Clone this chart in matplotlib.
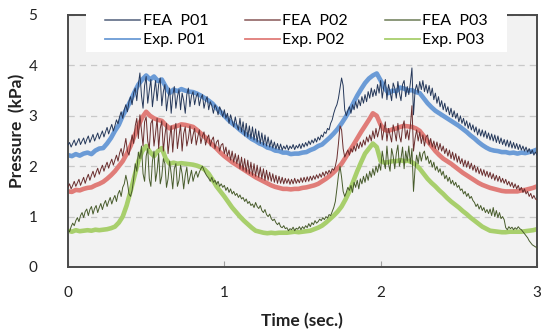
import numpy as np
import matplotlib
matplotlib.use("Agg")
import matplotlib.pyplot as plt
from matplotlib.lines import Line2D
from matplotlib.patches import Rectangle

plt.rcParams['font.family'] = ['Lato', 'DejaVu Sans']

# sampling times (s)
t_exp = np.linspace(0.0, 3.0, 121)   # every 0.025 s
t_fea = np.linspace(0.0, 3.0, 301)   # every 0.01 s

exp_p01 = [
    2.22, 2.20, 2.24, 2.21, 2.25, 2.27, 2.24, 2.31, 2.35, 2.36,
    2.45, 2.56, 2.70, 2.82, 3.00, 3.14, 3.30, 3.47, 3.62, 3.72,
    3.80, 3.72, 3.78, 3.69, 3.72, 3.58, 3.45, 3.52, 3.49, 3.53,
    3.50, 3.48, 3.47, 3.44, 3.40, 3.35, 3.30, 3.24, 3.15, 3.08,
    3.00, 2.92, 2.85, 2.79, 2.72, 2.66, 2.60, 2.54, 2.50, 2.45,
    2.42, 2.37, 2.35, 2.31, 2.30, 2.27, 2.27, 2.24, 2.25, 2.25,
    2.27, 2.28, 2.32, 2.35, 2.40, 2.43, 2.50, 2.57, 2.65, 2.74,
    2.85, 2.97, 3.10, 3.25, 3.40, 3.53, 3.65, 3.74, 3.80, 3.84,
    3.70, 3.55, 3.45, 3.50, 3.49, 3.56, 3.54, 3.50, 3.51, 3.47,
    3.45, 3.35, 3.25, 3.17, 3.10, 3.05, 3.00, 2.95, 2.90, 2.85,
    2.80, 2.74, 2.68, 2.61, 2.55, 2.48, 2.42, 2.37, 2.33, 2.31,
    2.30, 2.28, 2.28, 2.26, 2.27, 2.25, 2.27, 2.26, 2.28, 2.30,
    2.33]
exp_p02 = [
    1.50, 1.49, 1.53, 1.52, 1.55, 1.57, 1.58, 1.62, 1.65, 1.69,
    1.75, 1.82, 1.90, 2.00, 2.10, 2.24, 2.40, 2.60, 2.80, 2.97,
    3.08, 3.00, 2.95, 2.92, 2.90, 2.82, 2.75, 2.78, 2.80, 2.83,
    2.82, 2.80, 2.78, 2.72, 2.65, 2.58, 2.50, 2.42, 2.35, 2.27,
    2.20, 2.14, 2.08, 2.03, 1.98, 1.93, 1.88, 1.83, 1.78, 1.74,
    1.70, 1.66, 1.62, 1.59, 1.57, 1.55, 1.55, 1.54, 1.55, 1.55,
    1.57, 1.58, 1.60, 1.62, 1.65, 1.70, 1.75, 1.81, 1.88, 1.96,
    2.05, 2.17, 2.30, 2.42, 2.55, 2.68, 2.80, 2.92, 3.05, 3.00,
    2.82, 2.72, 2.70, 2.73, 2.75, 2.78, 2.80, 2.79, 2.78, 2.75,
    2.70, 2.60, 2.50, 2.40, 2.30, 2.22, 2.15, 2.10, 2.05, 1.99,
    1.93, 1.87, 1.82, 1.77, 1.72, 1.67, 1.63, 1.60, 1.57, 1.55,
    1.53, 1.51, 1.50, 1.50, 1.50, 1.50, 1.52, 1.53, 1.55, 1.57,
    1.60]
exp_p03 = [
    0.72, 0.70, 0.73, 0.71, 0.72, 0.73, 0.72, 0.74, 0.73, 0.74,
    0.75, 0.77, 0.80, 0.88, 1.00, 1.22, 1.50, 1.80, 2.10, 2.30,
    2.40, 2.28, 2.20, 2.30, 2.36, 2.15, 2.05, 2.07, 2.05, 2.06,
    2.05, 2.04, 2.03, 2.01, 1.98, 1.93, 1.85, 1.73, 1.60, 1.50,
    1.40, 1.29, 1.18, 1.09, 1.00, 0.92, 0.85, 0.78, 0.72, 0.70,
    0.68, 0.67, 0.68, 0.67, 0.68, 0.68, 0.68, 0.69, 0.70, 0.69,
    0.70, 0.71, 0.72, 0.75, 0.78, 0.82, 0.88, 0.95, 1.02, 1.10,
    1.20, 1.34, 1.50, 1.70, 1.90, 2.08, 2.25, 2.35, 2.45, 2.38,
    2.10, 2.07, 2.08, 2.10, 2.10, 2.12, 2.10, 2.11, 2.08, 2.03,
    1.95, 1.85, 1.75, 1.67, 1.60, 1.52, 1.45, 1.37, 1.30, 1.24,
    1.18, 1.11, 1.05, 0.98, 0.92, 0.86, 0.80, 0.76, 0.72, 0.71,
    0.70, 0.69, 0.69, 0.70, 0.70, 0.70, 0.70, 0.71, 0.72, 0.73,
    0.75]

# simulated pressures (kPa)
fea_p01 = [
    2.42, 2.47, 2.38, 2.45, 2.52, 2.41, 2.48, 2.55, 2.43, 2.50,
    2.56, 2.44, 2.53, 2.60, 2.47, 2.55, 2.63, 2.50, 2.58, 2.66,
    2.54, 2.62, 2.70, 2.58, 2.68, 2.77, 2.64, 2.74, 2.83, 2.70,
    2.80, 2.92, 2.84, 2.98, 3.08, 2.95, 3.12, 3.22, 3.08, 3.28,
    3.38, 3.22, 3.45, 3.55, 3.30, 3.62, 3.85, 3.40, 3.15, 3.60,
    3.78, 3.25, 3.50, 3.72, 3.18, 3.45, 3.70, 3.30, 3.62, 3.75,
    3.20, 3.48, 3.62, 3.10, 3.35, 3.55, 3.05, 3.40, 3.58, 3.15,
    3.38, 3.52, 3.12, 3.45, 3.30, 3.05, 3.42, 3.55, 3.18, 3.40,
    3.48, 3.22, 3.38, 3.45, 3.20, 3.35, 3.42, 3.15, 3.30, 3.38,
    3.12, 3.28, 3.20, 3.05, 3.22, 3.15, 3.02, 3.18, 3.10, 2.98,
    3.12, 2.95, 3.05, 2.85, 3.02, 2.90, 2.78, 2.98, 2.82, 2.72,
    2.95, 2.68, 2.88, 2.60, 2.85, 2.58, 2.80, 2.55, 2.78, 2.52,
    2.74, 2.48, 2.70, 2.45, 2.66, 2.42, 2.62, 2.40, 2.58, 2.38,
    2.52, 2.36, 2.48, 2.34, 2.45, 2.33, 2.44, 2.32, 2.40, 2.34,
    2.42, 2.32, 2.40, 2.35, 2.43, 2.33, 2.41, 2.36, 2.44, 2.35,
    2.45, 2.38, 2.47, 2.40, 2.50, 2.43, 2.52, 2.46, 2.55, 2.48,
    2.58, 2.52, 2.62, 2.58, 2.68, 2.65, 2.75, 2.72, 2.85, 2.92,
    3.05, 3.15, 3.22, 3.35, 3.55, 3.75, 3.60, 3.12, 3.00, 3.10,
    3.18, 3.05, 3.22, 3.12, 3.28, 3.15, 3.32, 3.20, 3.38, 3.25,
    3.42, 3.28, 3.48, 3.35, 3.55, 3.38, 3.52, 3.40, 3.62, 3.45,
    3.70, 3.35, 3.58, 3.72, 3.32, 3.62, 3.48, 3.30, 3.65, 3.55,
    3.35, 3.68, 3.45, 3.30, 3.62, 3.70, 3.38, 3.58, 3.42, 3.65,
    3.95, 3.02, 3.50, 3.62, 3.45, 3.68, 3.52, 3.70, 3.48, 3.62,
    3.45, 3.60, 3.40, 3.55, 3.32, 3.45, 3.25, 3.38, 3.18, 3.30,
    3.12, 3.25, 3.08, 3.18, 3.02, 3.15, 2.98, 3.10, 2.95, 3.05,
    2.88, 3.00, 2.85, 2.95, 2.80, 2.90, 2.75, 2.86, 2.72, 2.82,
    2.68, 2.78, 2.62, 2.74, 2.60, 2.72, 2.58, 2.70, 2.55, 2.66,
    2.52, 2.64, 2.50, 2.62, 2.47, 2.60, 2.45, 2.56, 2.43, 2.53,
    2.40, 2.52, 2.38, 2.50, 2.36, 2.47, 2.35, 2.45, 2.33, 2.43,
    2.32, 2.40, 2.30, 2.38, 2.28, 2.35, 2.25, 2.32, 2.22, 2.28,
    2.22]
fea_p02 = [
    1.58, 1.65, 1.55, 1.62, 1.70, 1.60, 1.67, 1.74, 1.62, 1.70,
    1.78, 1.66, 1.76, 1.84, 1.72, 1.82, 1.90, 1.78, 1.88, 1.96,
    1.84, 1.94, 2.02, 1.90, 2.00, 2.08, 1.96, 2.06, 2.14, 2.02,
    2.12, 2.22, 2.10, 2.26, 2.35, 2.20, 2.38, 2.55, 2.30, 2.22,
    2.40, 2.62, 2.45, 2.80, 2.95, 2.55, 3.02, 2.70, 2.40, 2.88,
    2.98, 2.50, 2.35, 2.85, 2.92, 2.40, 2.65, 2.95, 2.35, 2.75,
    2.90, 2.30, 2.62, 2.85, 2.25, 2.55, 2.80, 2.28, 2.70, 2.85,
    2.35, 2.60, 2.82, 2.30, 2.65, 2.78, 2.40, 2.55, 2.80, 2.45,
    2.62, 2.75, 2.42, 2.58, 2.72, 2.45, 2.60, 2.68, 2.42, 2.55,
    2.62, 2.40, 2.52, 2.58, 2.35, 2.48, 2.52, 2.30, 2.42, 2.45,
    2.25, 2.38, 2.20, 2.32, 2.12, 2.30, 2.08, 2.25, 2.05, 2.22,
    1.95, 2.18, 1.92, 2.15, 1.88, 2.12, 1.85, 2.08, 1.82, 2.05,
    1.80, 2.02, 1.78, 1.98, 1.75, 1.95, 1.72, 1.92, 1.72, 1.88,
    1.70, 1.85, 1.68, 1.82, 1.66, 1.80, 1.66, 1.78, 1.65, 1.76,
    1.66, 1.75, 1.64, 1.74, 1.65, 1.76, 1.66, 1.74, 1.67, 1.77,
    1.68, 1.78, 1.69, 1.79, 1.70, 1.80, 1.72, 1.81, 1.74, 1.83,
    1.76, 1.85, 1.78, 1.88, 1.80, 1.90, 1.84, 1.92, 1.86, 1.95,
    1.92, 2.00, 2.15, 2.45, 2.80, 2.72, 2.35, 2.18, 2.25, 2.32,
    2.22, 2.35, 2.28, 2.40, 2.30, 2.45, 2.35, 2.48, 2.38, 2.52,
    2.42, 2.58, 2.48, 2.62, 2.50, 2.70, 2.55, 2.75, 2.58, 2.72,
    2.85, 2.52, 2.70, 2.88, 2.50, 2.75, 2.62, 2.48, 2.82, 2.68,
    2.50, 2.85, 2.60, 2.48, 2.78, 2.90, 2.55, 2.72, 2.52, 2.80,
    3.20, 2.30, 2.55, 2.72, 2.50, 2.68, 2.45, 2.62, 2.40, 2.58,
    2.62, 2.42, 2.55, 2.38, 2.50, 2.35, 2.48, 2.32, 2.45, 2.30,
    2.40, 2.25, 2.35, 2.20, 2.32, 2.15, 2.28, 2.12, 2.25, 2.08,
    2.20, 2.05, 2.15, 2.00, 2.12, 1.98, 2.10, 1.95, 2.06, 1.92,
    2.02, 1.88, 1.98, 1.85, 1.95, 1.82, 1.93, 1.80, 1.90, 1.78,
    1.88, 1.75, 1.85, 1.72, 1.82, 1.70, 1.80, 1.68, 1.76, 1.66,
    1.74, 1.63, 1.70, 1.60, 1.68, 1.57, 1.65, 1.55, 1.62, 1.52,
    1.58, 1.48, 1.55, 1.45, 1.50, 1.40, 1.46, 1.36, 1.42, 1.35,
    1.33]
fea_p03 = [
    0.74, 0.70, 0.80, 0.87, 0.82, 0.92, 0.98, 0.90, 1.02, 1.08,
    0.98, 1.10, 1.15, 1.02, 1.14, 1.20, 1.05, 1.16, 1.22, 1.08,
    1.18, 1.26, 1.14, 1.25, 1.32, 1.20, 1.30, 1.38, 1.25, 1.35,
    1.42, 1.30, 1.45, 1.52, 1.40, 1.58, 1.65, 1.82, 1.68, 1.45,
    1.40, 1.52, 1.75, 2.05, 1.90, 2.28, 2.15, 2.40, 1.85, 1.70,
    2.20, 2.35, 1.75, 1.60, 2.10, 2.30, 1.70, 1.90, 2.25, 1.65,
    1.80, 2.15, 2.05, 1.58, 1.75, 2.10, 1.85, 1.55, 1.95, 2.05,
    1.60, 1.72, 2.02, 1.85, 1.55, 1.82, 1.98, 1.65, 1.78, 1.92,
    1.70, 1.82, 1.90, 1.78, 1.88, 1.95, 2.00, 1.92, 1.85, 1.80,
    1.76, 1.70, 1.78, 1.68, 1.72, 1.64, 1.70, 1.60, 1.65, 1.58,
    1.62, 1.52, 1.58, 1.48, 1.55, 1.45, 1.50, 1.42, 1.46, 1.38,
    1.43, 1.35, 1.38, 1.30, 1.35, 1.26, 1.30, 1.22, 1.25, 1.18,
    1.28, 1.20, 1.16, 1.22, 1.12, 1.08, 1.14, 1.04, 1.00, 1.05,
    0.96, 0.92, 0.95, 0.88, 0.84, 0.88, 0.80, 0.78, 0.82, 0.76,
    0.78, 0.72, 0.76, 0.74, 0.79, 0.72, 0.77, 0.75, 0.80, 0.74,
    0.80, 0.76, 0.82, 0.78, 0.86, 0.80, 0.88, 0.84, 0.92, 0.87,
    0.90, 0.95, 0.92, 0.98, 0.94, 1.00, 0.97, 1.04, 1.02, 1.10,
    1.18, 1.30, 1.55, 1.82, 2.00, 1.78, 1.50, 1.40, 1.48, 1.58,
    1.52, 1.62, 1.48, 1.68, 1.58, 1.72, 1.55, 1.75, 1.65, 1.80,
    1.68, 1.85, 1.72, 1.90, 1.78, 1.95, 1.82, 2.00, 1.88, 2.05,
    1.92, 2.30, 2.10, 1.95, 2.40, 2.05, 1.90, 2.35, 2.20, 1.95,
    2.25, 2.42, 2.00, 2.15, 2.38, 1.95, 2.30, 2.10, 2.40, 2.05,
    2.35, 1.50, 1.95, 2.22, 2.05, 2.28, 2.10, 2.25, 2.30, 2.12,
    2.20, 2.05, 2.12, 1.98, 2.08, 1.92, 2.00, 1.88, 1.95, 1.82,
    1.90, 1.75, 1.82, 1.70, 1.78, 1.65, 1.72, 1.62, 1.68, 1.58,
    1.62, 1.52, 1.55, 1.45, 1.50, 1.40, 1.46, 1.36, 1.40, 1.32,
    1.28, 1.20, 1.25, 1.15, 1.22, 1.12, 1.18, 1.08, 1.14, 1.06,
    1.15, 1.02, 1.18, 1.00, 1.12, 0.98, 1.08, 0.96, 1.00, 0.94,
    0.78, 0.74, 0.80, 0.76, 0.79, 0.74, 0.78, 0.75, 0.80, 0.76,
    0.74, 0.70, 0.66, 0.62, 0.58, 0.52, 0.48, 0.44, 0.42, 0.40,
    0.38]

# colours
c_exp = ['#6b9bd6', '#e07c78', '#a8cf6c']
c_fea = ['#25385a', '#6a2e2e', '#485c2c']
names = ['P01', 'P02', 'P03']

fig = plt.figure(figsize=(5.41, 3.31), dpi=100)
ax = fig.add_axes([68/541, 64/331, 469/541, 252/331])
ax.set_facecolor('#f2f2f2')

for yv, c in zip([exp_p01, exp_p02, exp_p03], c_exp):
    ax.plot(t_exp, yv, color=c, lw=3.3, solid_joinstyle='round', zorder=2)
for yv, c in zip([fea_p01, fea_p02, fea_p03], c_fea):
    ax.plot(t_fea, yv, color=c, lw=0.7, zorder=3)

ax.set_xlim(0, 3)
ax.set_ylim(0, 5)
ax.set_xticks([0, 1, 2, 3])
ax.set_yticks([0, 1, 2, 3, 4, 5])
ax.yaxis.grid(True, color='#c8c8c8', linestyle=(0, (5, 4)), lw=0.9)
ax.set_axisbelow(True)
for s in ax.spines.values():
    s.set_color('#4a4a4a')
    s.set_linewidth(1.4)
ax.tick_params(axis='x', direction='in', length=4, color='#a0a0a0',
               pad=14, labelsize=11, labelcolor='#222222')
ax.tick_params(axis='y', length=0, pad=22, labelsize=11, labelcolor='#222222')

fig.text(302/541, 1 - 321/331, 'Time (sec.)', ha='center', va='center',
         fontsize=12.5, fontweight='bold', color='#222222')
fig.text(17/541, 1 - 131/331, 'Pressure  (kPa)', ha='center', va='center',
         rotation=90, fontsize=12.5, fontweight='bold', color='#222222')

# white legend area sitting over the top of the plot frame
fig.patches.append(Rectangle((86/541, 1 - 52/331), 421/541, 52/331,
                             transform=fig.transFigure, facecolor='white',
                             edgecolor='none', zorder=5))

handles = []
labels = []
for i in range(3):
    handles.append(Line2D([], [], color=c_fea[i], lw=1.1, alpha=0.8))
    labels.append('FEA  ' + names[i])
    handles.append(Line2D([], [], color=c_exp[i], lw=1.3))
    labels.append('Exp. ' + names[i])
leg = fig.legend(handles, labels, ncol=3, loc='upper left',
                 bbox_to_anchor=(105/541, 1 - 14/331), frameon=False,
                 fontsize=11.5, handlelength=2.2, handletextpad=0.15,
                 columnspacing=2.3, borderpad=0, labelspacing=0.32,
                 borderaxespad=0)
leg.set_zorder(10)

fig.savefig('out.png', dpi=100)
